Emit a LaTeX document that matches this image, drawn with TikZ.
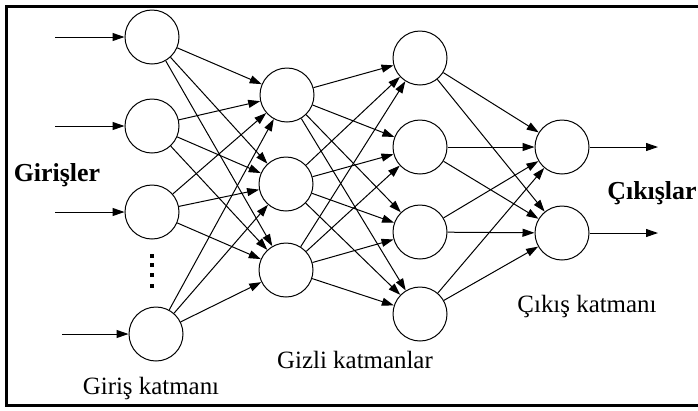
\documentclass[tikz,border=0pt]{standalone}
\usepackage{fontspec}
\setmainfont{Liberation Serif}
\usetikzlibrary{arrows.meta}
\begin{document}
\begin{tikzpicture}[x=1bp,y=-1bp,
 neuron/.style={circle,draw,line width=1bp,minimum size=54bp,inner sep=0pt},
 conn/.style={line width=1bp,-{Triangle[length=12bp,width=8bp]}},
 lbl/.style={font=\fontsize{25}{27}\selectfont,inner sep=0pt},
 blbl/.style={font=\fontsize{26}{28}\selectfont\bfseries,inner sep=0pt},
 dotbox/.style={fill,minimum size=4bp,inner sep=0pt}]
\useasboundingbox (0,0) rectangle (698,410);
\draw[line width=3bp] (698,6) -- (6,6) -- (6,405) -- (698,405);
% input layer
\node[neuron] (i1) at (152,37) {};
\node[neuron] (i2) at (152,126) {};
\node[neuron] (i3) at (152,212) {};
\node[neuron] (i4) at (156,334) {};
% hidden 1
\node[neuron] (h1) at (287,95) {};
\node[neuron] (h2) at (286,184) {};
\node[neuron] (h3) at (286,270) {};
% hidden 2
\node[neuron] (k1) at (420,58) {};
\node[neuron] (k2) at (420,147) {};
\node[neuron] (k3) at (420,232) {};
\node[neuron] (k4) at (420,314) {};
% output
\node[neuron] (o1) at (562,147) {};
\node[neuron] (o2) at (562,233) {};
% dots
\node[dotbox] (d1) at (152,256) {};
\node[dotbox] (d2) at (152,265) {};
\node[dotbox] (d3) at (152,275) {};
\node[dotbox] (d4) at (152,286) {};
% inputs / outputs
\coordinate (s1) at (55,37);
\coordinate (s2) at (55,126);
\coordinate (s3) at (55,212);
\coordinate (s4) at (62,334);
\coordinate (e1) at (658,147);
\coordinate (e2) at (658,233);
\draw[conn] (s1) -- (i1);
\draw[conn] (s2) -- (i2);
\draw[conn] (s3) -- (i3);
\draw[conn] (s4) -- (i4);
\draw[conn] (o1) -- (e1);
\draw[conn] (o2) -- (e2);
% full connections
\foreach \a in {i1,i2,i3,i4}
  \foreach \b in {h1,h2,h3}
    \draw[conn] (\a) -- (\b);
\foreach \a in {h1,h2,h3}
  \foreach \b in {k1,k2,k3,k4}
    \draw[conn] (\a) -- (\b);
\foreach \a in {k1,k2,k3,k4}
  \foreach \b in {o1,o2}
    \draw[conn] (\a) -- (\b);
% labels
\node[blbl] (lin) at (57,175) {Girişler};
\node[blbl] (lout) at (652,193) {Çıkışlar};
\node[lbl] (l1) at (151,388) {Giriş katmanı};
\node[lbl] (l2) at (355,360) {Gizli katmanlar};
\node[lbl] (l3) at (587,307) {Çıkış katmanı};
\end{tikzpicture}
\end{document}
